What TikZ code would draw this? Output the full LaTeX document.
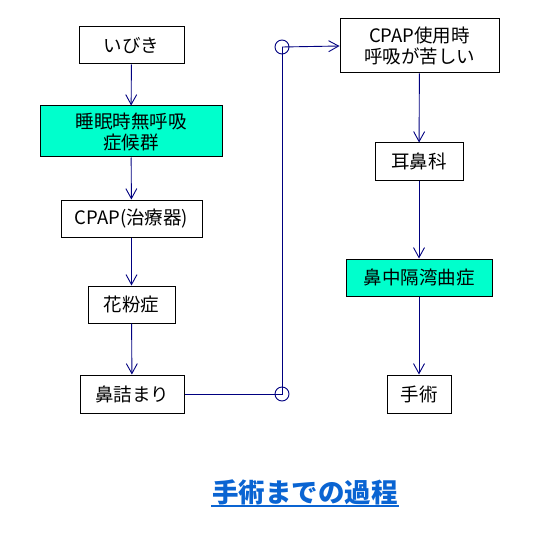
\documentclass[tikz,border=0pt]{standalone}
\usepackage{fontspec}
\setmainfont{Noto Sans CJK JP}
\usepackage{xcolor}
\usetikzlibrary{arrows.meta}
\definecolor{flowNavy}{HTML}{000080}
\definecolor{keyCyan}{HTML}{00FFCC}
\definecolor{titleBlue}{HTML}{0A64D2}

\begin{document}
\begin{tikzpicture}[x=1pt,y=-1pt,
  box/.style={draw=black,line width=1pt,fill=white,align=center,inner sep=0pt,
    font=\fontsize{18.5}{21}\selectfont},
  keybox/.style={box,fill=keyCyan},
  joint/.style={circle,draw=flowNavy,line width=0.9pt,minimum size=14pt,inner sep=0pt},
  flow/.style={draw=flowNavy,line width=0.9pt},
  flowto/.style={flow,-{Straight Barb[length=10pt,width=11pt]}}]
  \useasboundingbox (0,0) rectangle (548,548);
  \node[box,minimum width=105pt,minimum height=37pt] (ibiki) at (131.5,45.5) {いびき};
  \node[keybox,minimum width=182pt,minimum height=51pt] (sas) at (131,131.5) {睡眠時無呼吸\\症候群};
  \node[box,minimum width=141pt,minimum height=37pt] (cpap) at (131.5,218.5) {CPAP(治療器)};
  \node[box,minimum width=87pt,minimum height=37pt] (kafun) at (131.5,304.5) {花粉症};
  \node[box,minimum width=104pt,minimum height=38pt] (hanazumari) at (132,394) {鼻詰まり};
  \node[box,minimum width=159pt,minimum height=54pt] (kurushii) at (419.5,46) {CPAP使用時\\呼吸が苦しい};
  \node[box,minimum width=88pt,minimum height=37pt] (jibika) at (419,161.5) {耳鼻科};
  \node[keybox,minimum width=146pt,minimum height=37pt] (bichu) at (419,277.5) {鼻中隔湾曲症};
  \node[box,minimum width=64pt,minimum height=38pt] (shujutsu) at (419,394) {手術};
  \node[joint] (jlow) at (282,394) {};
  \node[joint] (jtop) at (282,47) {};

  \draw[flowto] (ibiki) -- (sas);
  \draw[flowto] (sas) -- (cpap);
  \draw[flowto] (cpap) -- (kafun);
  \draw[flowto] (kafun) -- (hanazumari);
  \draw[flow] (hanazumari.east) -- (jlow.center) -- (jtop.center);
  \draw[flowto] (jtop.center) -- (kurushii.west);
  \draw[flowto] (kurushii) -- (jibika);
  \draw[flowto] (jibika) -- (bichu);
  \draw[flowto] (bichu) -- (shujutsu);

  \node[text=titleBlue,inner sep=1pt,font=\fontsize{26.5}{30}\selectfont\bfseries] (title) at (305,492) {手術までの過程};
  \draw[titleBlue,line width=1.8pt] (title.south west) -- (title.south east);
\end{tikzpicture}
\end{document}
